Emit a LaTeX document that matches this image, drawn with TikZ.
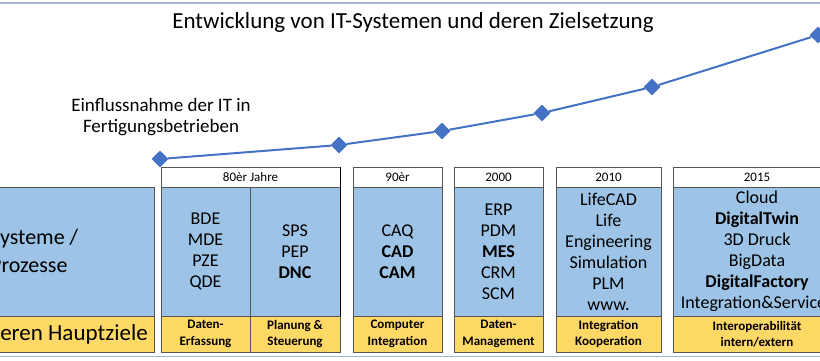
\documentclass[tikz,border=0pt]{standalone}
\usepackage{fontspec}
\setmainfont{Carlito}
\usetikzlibrary{shapes.geometric}
\definecolor{sysblue}{RGB}{157,195,230}
\definecolor{goalyellow}{RGB}{255,217,102}
\definecolor{chartblue}{RGB}{68,114,196}
\definecolor{boxgray}{RGB}{85,85,85}
\definecolor{framegray}{RGB}{165,180,210}

\begin{document}
\begin{tikzpicture}[x=1pt,y=-1pt,
    sysbox/.style={draw=boxgray, fill=sysblue, line width=0.8pt, inner sep=0pt,
      minimum height=129pt, align=center, font=\fontsize{18}{21}\selectfont},
    goalbox/.style={draw=boxgray, fill=goalyellow, line width=0.8pt, inner sep=0pt,
      minimum height=36pt, align=center, font=\bfseries\fontsize{13}{16.5}\selectfont},
    yearbox/.style={draw=boxgray, fill=white, line width=0.8pt, inner sep=0pt,
      minimum height=20pt, font=\fontsize{13}{15}\selectfont},
    datapt/.style={diamond, fill=chartblue, inner sep=0pt, minimum size=17pt},
    trend/.style={draw=chartblue, line width=2pt}]
       \useasboundingbox (0,0) rectangle (820,360);
       \clip (0,0) rectangle (820,360);
       % slide frame
       \draw[framegray, line width=1.2pt] (0,3) -- (820,3);
       \draw[framegray, line width=1.2pt] (0,356.5) -- (820,356.5);
       \node[font=\fontsize{23}{28}\selectfont, anchor=base] (title) at (413,28)
            {Entwicklung von IT-Systemen und deren Zielsetzung};
       \node[font=\fontsize{19}{21}\selectfont, align=center, inner sep=0pt] (einfluss) at (161,117.5)
            {Einflussnahme der IT in\\Fertigungsbetrieben};
       % left column
       \node[sysbox, minimum width=214pt] (sys) at (47,251.5) {};
       \node[goalbox, minimum width=214pt] (ziel) at (47,334) {};
       \node[anchor=west, align=left, inner sep=0pt, font=\fontsize{22}{28}\selectfont] (systxt) at (-10,251)
            {Systeme /\\Prozesse};
       \node[anchor=base west, inner sep=0pt, font=\fontsize{23}{28}\selectfont] (zieltxt) at (-12,340)
            {deren Hauptziele};
       % 80er
       \node[yearbox, minimum width=179pt] (h80) at (250.5,177) {80èr Jahre};
       \node[sysbox, minimum width=89pt] (c1) at (205.5,251.5) {BDE\\MDE\\PZE\\QDE};
       \node[sysbox, minimum width=90pt] (c2) at (295,251.5) {SPS\\PEP\\\textbf{DNC}};
       \node[goalbox, minimum width=89pt] (g1) at (205.5,334) {Daten-\\Erfassung};
       \node[goalbox, minimum width=90pt] (g2) at (295,334) {Planung \&\\Steuerung};
       \draw[black, line width=1.5pt] (h80.north east) -- (c2.south east);
       % 90er
       \node[yearbox, minimum width=89pt] (h90) at (397.5,177) {90èr};
       \node[sysbox, minimum width=89pt] (c3) at (397.5,251.5) {CAQ\\\textbf{CAD}\\\textbf{CAM}};
       \node[goalbox, minimum width=89pt] (g3) at (397.5,334) {Computer\\Integration};
       % 2000
       \node[yearbox, minimum width=89pt] (h00) at (498.5,177) {2000};
       \node[sysbox, minimum width=89pt] (c4) at (498.5,251.5) {ERP\\PDM\\\textbf{MES}\\CRM\\SCM};
       \node[goalbox, minimum width=89pt] (g4) at (498.5,334) {Daten-\\Management};
       % 2010
       \node[yearbox, minimum width=105pt] (h10) at (608.5,177) {2010};
       \node[sysbox, minimum width=105pt] (c5) at (608.5,251.5)
            {LifeCAD\\Life\\Engineering\\Simulation\\PLM\\www.};
       \node[goalbox, minimum width=105pt] (g5) at (608.5,334) {Integration\\Kooperation};
       % 2015
       \node[yearbox, minimum width=168pt] (h15) at (757,177) {2015};
       \node[sysbox, minimum width=168pt] (c6) at (757,251.5)
            {Cloud\\\textbf{DigitalTwin}\\3D Druck\\BigData\\\textbf{DigitalFactory}\\Integration\&Services};
       \node[goalbox, minimum width=168pt] (g6) at (757,334) {Interoperabilität\\intern/extern};
       % trend line
       \node[datapt] (p1) at (160,159) {};
       \node[datapt] (p2) at (339,145) {};
       \node[datapt] (p3) at (442,131) {};
       \node[datapt] (p4) at (542,113) {};
       \node[datapt] (p5) at (652,87) {};
       \node[datapt] (p6) at (818,35) {};
       \draw[trend] (p1) -- (p2) -- (p3) -- (p4) -- (p5) -- (p6);
      \end{tikzpicture}
\end{document}
